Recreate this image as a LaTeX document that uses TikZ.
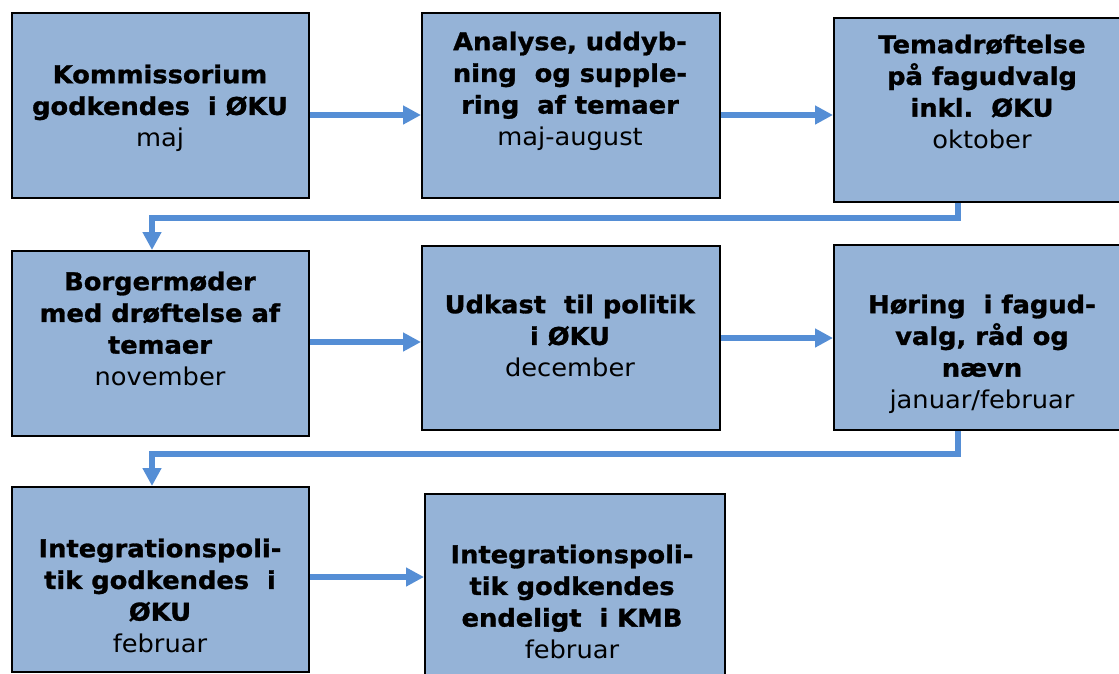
\documentclass[tikz,border=0pt]{standalone}
\usepackage{fontspec}
\setmainfont{DejaVu Sans}[FakeStretch=1.05, BoldFeatures={FakeBold=1.2}]
\usetikzlibrary{arrows.meta}
\definecolor{boxfill}{HTML}{95B3D7}
\definecolor{arrowblue}{HTML}{558ED5}
\newcommand{\topstrut}{\rule{0pt}{25pt}}
\begin{document}
\begin{tikzpicture}[x=1pt,y=-1pt,
  stepbox/.style={draw=black, line width=2pt, fill=boxfill, rectangle, inner sep=0pt, anchor=north west},
  lbl/.style={align=center, inner sep=0pt, anchor=north, font=\fontsize{24.5}{31.7}\selectfont},
  flow/.style={draw=arrowblue, line width=5.5pt, -{Triangle[length=18pt,width=18pt]}}]
\useasboundingbox[fill=white] (0,0) rectangle (1119,673);

\node[stepbox, minimum width=297pt, minimum height=185pt] (b1) at (11,12) {};
\node[stepbox, minimum width=298pt, minimum height=185pt] (b2) at (421,12) {};
\node[stepbox, minimum width=298pt, minimum height=184pt] (b3) at (833,17) {};
\node[stepbox, minimum width=297pt, minimum height=185pt] (b4) at (11,250) {};
\node[stepbox, minimum width=298pt, minimum height=184pt] (b5) at (421,245) {};
\node[stepbox, minimum width=298pt, minimum height=185pt] (b6) at (833,244) {};
\node[stepbox, minimum width=297pt, minimum height=185pt] (b7) at (11,486) {};
\node[stepbox, minimum width=300pt, minimum height=195pt] (b8) at (424,493) {};

\node[lbl] (t1) at (160,83-25) {\topstrut\textbf{Kommissorium}\\\textbf{godkendes\ \ i ØKU}\\maj};
\node[lbl] (t2) at (570,50-25) {\topstrut\textbf{Analyse, uddyb-}\\\textbf{ning\ \ og supple-}\\\textbf{ring\ \ af temaer}\\maj-august};
\node[lbl] (t3) at (982,53-25) {\topstrut\textbf{Temadrøftelse}\\\textbf{på fagudvalg}\\\textbf{inkl.\ \ ØKU}\\oktober};
\node[lbl] (t4) at (160,290-25) {\topstrut\textbf{Borgermøder}\\\textbf{med drøftelse af}\\\textbf{temaer}\\november};
\node[lbl] (t5) at (570,313-25) {\topstrut\textbf{Udkast\ \ til politik}\\\textbf{i ØKU}\\december};
\node[lbl] (t6) at (982,313-25) {\topstrut\textbf{Høring\ \ i fagud-}\\\textbf{valg, råd og}\\\textbf{nævn}\\januar/februar};
\node[lbl] (t7) at (160,557-25) {\topstrut\textbf{Integrationspoli-}\\\textbf{tik godkendes\ \ i}\\\textbf{ØKU}\\februar};
\node[lbl] (t8) at (572,563-25) {\topstrut\textbf{Integrationspoli-}\\\textbf{tik godkendes}\\\textbf{endeligt\ \ i KMB}\\februar};

\coordinate (c3a) at (958,218);
\coordinate (c3b) at (152,218);
\coordinate (c6a) at (958,454);
\coordinate (c6b) at (152,454);

\draw[flow] (b1.east |- 0,115) -- (b2.west |- 0,115);
\draw[flow] (b2.east |- 0,115) -- (b3.west |- 0,115);
\draw[flow] (b3.south -| c3a) -- (c3a) -- (c3b) -- (b4.north -| c3b);
\draw[flow] (b4.east |- 0,342) -- (b5.west |- 0,342);
\draw[flow] (b5.east |- 0,338) -- (b6.west |- 0,338);
\draw[flow] (b6.south -| c6a) -- (c6a) -- (c6b) -- (b7.north -| c6b);
\draw[flow] (b7.east |- 0,577) -- (b8.west |- 0,577);
\end{tikzpicture}
\end{document}
